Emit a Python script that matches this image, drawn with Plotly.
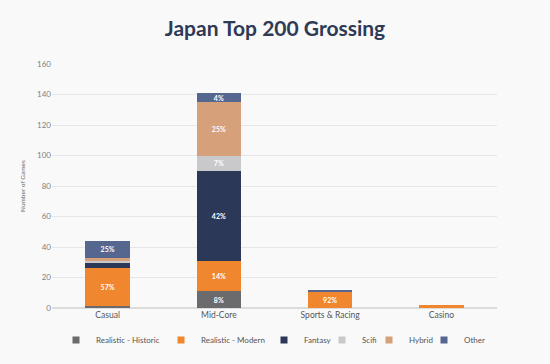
import plotly.graph_objects as go

categories = ["Casual", "Mid-Core", "Sports & Racing", "Casino"]
series_names = ["Realistic - Historic", "Realistic - Modern", "Fantasy", "Scifi", "Hybrid", "Other"]
historic = [1, 11, 0, 0]
modern = [25, 20, 11, 2]
fantasy = [4, 59, 0, 0]
scifi = [1, 10, 0, 0]
hybrid = [2, 35, 0, 0]
other = [11, 6, 1, 0]
labels_historic = ["", "8%", "", ""]
labels_modern = ["57%", "14%", "92%", ""]
labels_fantasy = ["", "42%", "", ""]
labels_scifi = ["", "7%", "", ""]
labels_hybrid = ["", "25%", "", ""]
labels_other = ["25%", "4%", "", ""]
y_ticks = [0, 20, 40, 60, 80, 100, 120, 140, 160]
y_title = "Number of Games"

colors = ["#6b6b6d", "#f0862e", "#2b3858", "#c9c9cb", "#d5a07a", "#56678f"]
values = [historic, modern, fantasy, scifi, hybrid, other]
labels = [labels_historic, labels_modern, labels_fantasy, labels_scifi, labels_hybrid, labels_other]

# left edge (px) of each single-entry legend box
legend_left_px = [56, 161, 264, 322, 369, 424]

fig = go.Figure()
for name, vals, txt, col in zip(series_names, values, labels, colors):
    fig.add_trace(go.Bar(
        name=name, x=categories, y=vals, text=txt,
        marker=dict(color=col, line=dict(width=0)),
        textposition="inside", insidetextanchor="middle", textangle=0,
        textfont=dict(size=7, color="white", family="Lato"),
        texttemplate="<b>%{text}</b>",
        hoverinfo="skip", showlegend=False,
    ))

legend_layouts = {}
for i, (name, col) in enumerate(zip(series_names, colors)):
    key = "legend" if i == 0 else f"legend{i + 1}"
    # legend-only swatch on a hidden helper axis pair (point lies outside its range)
    fig.add_trace(go.Scatter(
        name=name, x=[0], y=[0], mode="markers", xaxis="x2", yaxis="y2",
        marker=dict(symbol="square", size=7, color=col),
        legend=key, showlegend=True, hoverinfo="skip",
    ))
    legend_layouts[key] = dict(
        orientation="h", xref="container", x=legend_left_px[i] / 550, xanchor="left",
        y=-0.131, yanchor="middle", font=dict(size=8, color="#555555"), itemwidth=30,
        bgcolor="rgba(0,0,0,0)", borderwidth=0,
    )

fig.add_annotation(
    text=y_title, xref="paper", yref="paper", x=-0.0674, y=0.5,
    xanchor="center", yanchor="middle", textangle=-90, showarrow=False,
    font=dict(size=6.5, color="#666666", family="Lato"),
)

fig.update_layout(
    barmode="stack",
    bargap=0.6,
    width=550, height=364,
    paper_bgcolor="#f9f9fa", plot_bgcolor="#f9f9fa",
    margin=dict(l=52, r=53, t=64, b=56, autoexpand=False),
    title=dict(text="<b>Japan Top 200 Grossing</b>", x=0.5, xanchor="center", y=0.922, yanchor="middle",
               font=dict(family="Lato", size=21, color="#2f3a55")),
    font=dict(family="Lato", color="#666666"),
    uniformtext=dict(minsize=6, mode="show"),
    xaxis=dict(showgrid=False, tickfont=dict(size=8.5, color="#555555"), ticks="", showline=False,
               automargin=False),
    yaxis=dict(range=[0, 160], tickvals=y_ticks, gridcolor="#e6e6e8", gridwidth=1, zeroline=True,
               zerolinecolor="#dcdcdc", tickfont=dict(size=8, color="#808080"), ticks="", ticklen=0,
               automargin=False),
    xaxis2=dict(overlaying="x", range=[1, 2], visible=False, automargin=False),
    yaxis2=dict(overlaying="y", range=[1, 2], visible=False, automargin=False),
    **legend_layouts,
)

fig.write_html("out.html", config={"displayModeBar": False},
               post_script="document.body.style.margin='0';document.body.style.background='#f9f9fa';")
